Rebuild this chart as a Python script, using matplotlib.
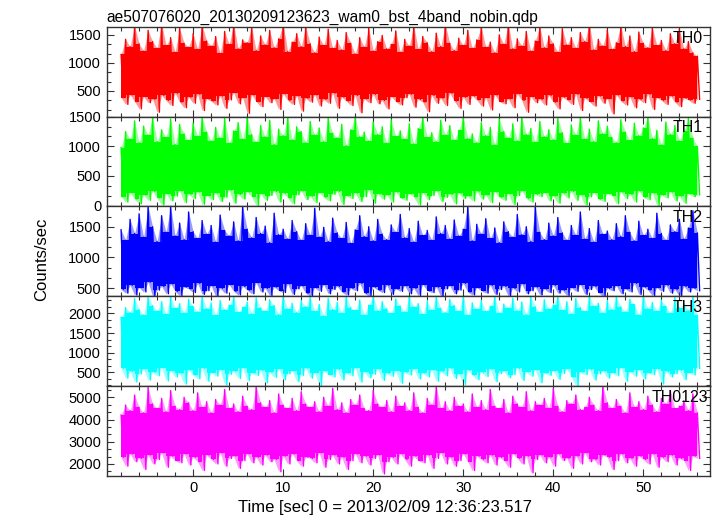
import numpy as np
import matplotlib
matplotlib.use("Agg")
import matplotlib.pyplot as plt
from matplotlib.ticker import MultipleLocator, AutoMinorLocator

plt.rcParams['font.family'] = ['Liberation Sans', 'DejaVu Sans']

title = "ae507076020_20130209123623_wam0_bst_4band_nobin.qdp"
xlabel = "Time [sec] 0 = 2013/02/09 12:36:23.517"
ylabel = "Counts/sec"

# time grid of the samples (peak then trough every 0.5 s, -8 .. 56 s)
t_start, t_step, n_pts = -8.0, 0.5, 129

# local peaks / troughs of each light curve
th0_hi = [1150, 1420, 1290, 1660, 1340, 1210, 1580, 1380, 1260, 1700, 1310, 1450, 1190, 1620, 1350, 1280,
          1520, 1240, 1680, 1390, 1300, 1470, 1170, 1560, 1330, 1690, 1250, 1410, 1360, 1640, 1220, 1480,
          1320, 1580, 1270, 1430, 1700, 1200, 1370, 1520, 1290, 1650, 1340, 1180, 1460, 1310, 1600, 1260,
          1400, 1230, 1540, 1350, 1160, 1450, 1280, 1620, 1210, 1380, 1490, 1250, 1330, 1570, 1190, 1420,
          1300, 1660, 1240, 1470, 1360, 1200, 1530, 1290, 1690, 1350, 1220, 1440, 1310, 1580, 1260, 1410,
          1640, 1280, 1370, 1180, 1500, 1330, 1700, 1250, 1430, 1300, 1560, 1210, 1390, 1650, 1270, 1480,
          1340, 1190, 1610, 1320, 1450, 1260, 1540, 1380, 1700, 1230, 1420, 1300, 1590, 1240, 1360, 1670,
          1290, 1480, 1200, 1550, 1350, 1270, 1630, 1310, 1400, 1220, 1520, 1340, 1600, 1250, 1380, 1180,
          1120]
th0_lo = [380, 260, 430, 310, 180, 400, 290, 350, 120, 420, 330, 240, 460, 300, 200, 390,
          280, 440, 150, 360, 320, 250, 410, 190, 340, 470, 270, 380, 100, 430, 310, 220,
          400, 290, 360, 170, 450, 330, 260, 410, 140, 370, 300, 430, 230, 350, 280, 460,
          190, 390, 320, 240, 420, 110, 360, 290, 440, 270, 330, 180, 400, 310, 250, 380,
          440, 210, 350, 300, 130, 420, 280, 370, 240, 460, 320, 190, 390, 260, 410, 340,
          230, 380, 160, 430, 310, 270, 360, 200, 450, 330, 120, 400, 290, 350, 250, 420,
          300, 180, 390, 340, 260, 440, 150, 370, 310, 230, 410, 280, 360, 90, 430, 320,
          250, 390, 200, 350, 290, 440, 170, 380, 330, 260, 410, 300, 220, 370, 340, 280,
          350]

th1_hi = [980, 1250, 1120, 1430, 1060, 1340, 1190, 1500, 1080, 1280, 1150, 1460, 1030, 1370, 1210, 1100,
          1390, 1170, 1500, 1240, 1090, 1320, 1140, 1470, 1050, 1260, 1400, 1120, 1500, 1200, 1070, 1350,
          1160, 1440, 1030, 1290, 1180, 1500, 1110, 1330, 1250, 1060, 1420, 1190, 1310, 1080, 1480, 1220,
          1140, 1370, 1010, 1280, 1500, 1160, 1240, 1090, 1410, 1200, 1330, 1050, 1450, 1170, 1260, 1120,
          1380, 1040, 1300, 1500, 1150, 1230, 1080, 1440, 1190, 1350, 1100, 1270, 1490, 1130, 1210, 1060,
          1400, 1180, 1320, 1020, 1460, 1250, 1140, 1380, 1090, 1500, 1200, 1300, 1070, 1420, 1160, 1280,
          1110, 1470, 1230, 1050, 1360, 1190, 1500, 1120, 1290, 1080, 1430, 1210, 1340, 1150, 1060, 1450,
          1240, 1100, 1390, 1180, 1310, 1500, 1130, 1270, 1020, 1410, 1200, 1350, 1090, 1260, 1480, 1140,
          1000]
th1_lo = [150, 60, 220, 110, 30, 180, 90, 240, 130, 10, 200, 80, 160, 250, 50, 190,
          120, 230, 20, 170, 100, 210, 70, 140, 260, 40, 190, 110, 230, 150, 0, 200,
          90, 170, 240, 60, 210, 130, 30, 180, 250, 100, 160, 50, 220, 140, 80, 190,
          240, 20, 170, 120, 210, 70, 150, 260, 40, 200, 110, 180, 60, 230, 130, 90,
          200, 150, 10, 220, 100, 170, 250, 70, 140, 190, 30, 210, 120, 160, 80, 240,
          110, 180, 50, 230, 140, 90, 200, 20, 170, 250, 120, 60, 190, 150, 220, 80,
          160, 40, 210, 130, 240, 90, 180, 10, 150, 220, 110, 70, 200, 170, 30, 230,
          120, 190, 60, 250, 140, 100, 210, 0, 180, 130, 230, 80, 160, 40, 200, 150,
          180]

th2_hi = [1450, 1280, 1620, 1390, 1710, 1330, 1830, 1500, 1260, 1680, 1410, 1830, 1350, 1560, 1290, 1740,
          1420, 1310, 1600, 1380, 1520, 1250, 1690, 1440, 1350, 1580, 1270, 1830, 1460, 1320, 1650, 1390,
          1510, 1240, 1720, 1370, 1460, 1300, 1600, 1420, 1280, 1550, 1360, 1800, 1330, 1490, 1260, 1640,
          1400, 1310, 1570, 1230, 1450, 1680, 1340, 1500, 1270, 1620, 1380, 1290, 1530, 1410, 1700, 1320,
          1470, 1250, 1590, 1360, 1440, 1280, 1660, 1390, 1520, 1300, 1610, 1350, 1460, 1830, 1270, 1540,
          1380, 1630, 1310, 1480, 1240, 1580, 1420, 1330, 1700, 1370, 1500, 1260, 1830, 1410, 1290, 1560,
          1350, 1650, 1400, 1280, 1520, 1360, 1740, 1300, 1470, 1250, 1600, 1380, 1430, 1290, 1550, 1340,
          1680, 1410, 1270, 1590, 1360, 1460, 1310, 1720, 1390, 1280, 1530, 1420, 1620, 1300, 1480, 1760,
          1400]
th2_lo = [480, 420, 550, 390, 510, 440, 600, 370, 470, 530, 410, 570, 450, 380, 520, 490,
          430, 580, 400, 460, 540, 370, 500, 420, 560, 450, 390, 530, 470, 410, 590, 440,
          500, 380, 520, 460, 430, 570, 400, 490, 540, 420, 370, 510, 450, 560, 410, 480,
          530, 440, 390, 500, 460, 580, 420, 370, 520, 470, 430, 550, 400, 490, 450, 540,
          410, 500, 380, 560, 460, 430, 520, 370, 490, 540, 410, 470, 580, 440, 390, 510,
          460, 420, 550, 400, 480, 530, 370, 500, 440, 570, 410, 460, 520, 390, 490, 430,
          550, 420, 470, 380, 510, 450, 560, 400, 480, 530, 430, 370, 500, 460, 540, 410,
          490, 440, 580, 400, 520, 470, 380, 510, 450, 550, 420, 480, 370, 530, 440, 500,
          460]

th3_hi = [1900, 2150, 2020, 2380, 2100, 1960, 2440, 2200, 2060, 2300, 1980, 2440, 2130, 2250, 2010, 2360,
          2180, 2040, 2440, 2120, 2270, 1950, 2330, 2090, 2210, 2440, 2030, 2160, 2290, 1990, 2400, 2140,
          2060, 2350, 2200, 1970, 2440, 2110, 2260, 2020, 2320, 2170, 2440, 2050, 2230, 1940, 2390, 2100,
          2280, 2010, 2440, 2150, 2080, 2340, 1960, 2210, 2440, 2070, 2300, 2120, 2000, 2370, 2190, 2040,
          2440, 2160, 2250, 1980, 2310, 2090, 2440, 2130, 2020, 2360, 2200, 2060, 2440, 1950, 2270, 2110,
          2330, 2050, 2180, 2440, 2000, 2240, 2140, 2390, 2070, 2290, 1970, 2440, 2170, 2030, 2350, 2120,
          2220, 2440, 2080, 2300, 1990, 2380, 2150, 2050, 2440, 2190, 2260, 2010, 2330, 2100, 2440, 2170,
          2040, 2360, 2230, 1960, 2440, 2120, 2280, 2060, 2340, 2180, 2000, 2410, 2140, 2250, 2070, 2440,
          1950]
th3_lo = [600, 350, 520, 250, 460, 580, 300, 500, 410, 620, 280, 540, 380, 470, 200, 560,
          430, 330, 600, 270, 490, 400, 560, 180, 450, 520, 340, 610, 290, 480, 420, 550,
          230, 500, 370, 590, 310, 460, 540, 260, 420, 600, 350, 490, 160, 530, 440, 380,
          570, 300, 480, 410, 620, 250, 510, 360, 450, 580, 290, 470, 400, 540, 220, 500,
          430, 590, 330, 480, 380, 560, 270, 520, 410, 600, 340, 460, 190, 550, 430, 310,
          500, 390, 580, 260, 470, 530, 360, 440, 600, 290, 510, 400, 560, 230, 480, 420,
          540, 320, 470, 590, 380, 150, 500, 440, 570, 300, 460, 530, 350, 490, 410, 620,
          270, 510, 400, 560, 330, 480, 440, 590, 200, 520, 380, 460, 550, 310, 490, 430,
          600]

th0123_hi = [4200, 4650, 4400, 5100, 4550, 4300, 5450, 4700, 4500, 4950, 4350, 5300, 4600, 4450, 5000, 4750,
             4400, 5200, 4550, 4800, 4300, 4900, 4650, 5350, 4500, 4700, 4350, 5050, 4600, 4450, 5510, 4750,
             4550, 4850, 4300, 5150, 4650, 4500, 4950, 4400, 5250, 4700, 4550, 4800, 4350, 5000, 4600, 5400,
             4450, 4750, 4300, 4900, 4650, 5100, 4500, 4400, 5300, 4700, 4550, 4850, 4350, 5050, 4600, 4750,
             4400, 5200, 4550, 4300, 4950, 4650, 5510, 4500, 4800, 4400, 5000, 4600, 4700, 4350, 5150, 4550,
             4850, 4450, 5350, 4600, 4500, 4900, 4300, 5050, 4700, 4550, 5250, 4400, 4800, 4650, 4950, 4500,
             5400, 4600, 4350, 4850, 4700, 5100, 4450, 4550, 5000, 4650, 4400, 5510, 4750, 4500, 4900, 4600,
             4300, 5200, 4550, 4800, 4450, 5050, 4650, 4350, 4950, 4700, 5300, 4500, 4600, 4850, 4400, 5150,
             4300]
th0123_lo = [2300, 1900, 2450, 2100, 2250, 1750, 2400, 2000, 2200, 2500, 1850, 2350, 2150, 2050, 2450, 1950,
             2300, 2100, 1700, 2400, 2200, 2000, 2500, 1900, 2250, 2350, 1800, 2150, 2450, 2050, 2300, 1950,
             2400, 2100, 2200, 1650, 2350, 2000, 2450, 2150, 1900, 2300, 2250, 2050, 2500, 1850, 2200, 2400,
             2000, 2300, 1750, 2150, 2450, 2050, 2350, 1950, 2250, 2400, 1550, 2100, 2300, 2000, 2450, 2200,
             1900, 2350, 2150, 2050, 2400, 1800, 2250, 2500, 2000, 2300, 1900, 2150, 2450, 2100, 1700, 2350,
             2200, 2050, 2400, 1950, 2300, 2150, 1850, 2450, 2250, 2000, 2350, 1600, 2200, 2400, 2050, 2300,
             1900, 2450, 2150, 2250, 1800, 2350, 2000, 2500, 2100, 2200, 1950, 2400, 2300, 1750, 2150, 2450,
             2050, 2250, 1900, 2350, 2200, 2000, 2450, 1850, 2300, 2100, 2400, 1950, 2250, 2150, 1700, 2350,
             2250]

names = ["TH0", "TH1", "TH2", "TH3", "TH0123"]
colors = ["#ff0000", "#00ff00", "#0000ff", "#00ffff", "#ff00ff"]
highs = [th0_hi, th1_hi, th2_hi, th3_hi, th0123_hi]
lows = [th0_lo, th1_lo, th2_lo, th3_lo, th0123_lo]
ylims = [(40, 1640), (-15, 1500), (370, 1830), (150, 2440), (1470, 5510)]
ymajor = [500, 500, 500, 500, 1000]
label_x = [0.988, 0.988, 0.988, 0.988, 0.997]

t = t_start + t_step * np.arange(n_pts)
t_zig = np.column_stack([t, t + t_step / 2]).ravel()


def pairwise(v, fn):
    # extreme of each sample and the next one
    p = np.append(np.asarray(v, float), v[-1])
    return fn(np.vstack([p[:-1], p[1:]]), axis=0)


fig, axes = plt.subplots(5, 1, sharex=True, figsize=(7.17, 5.16), dpi=100)
fig.subplots_adjust(left=0.1488, right=0.9902, top=0.9477, bottom=0.0781, hspace=0)

for ax, name, c, hi, lo, yl, ym, lx in zip(axes, names, colors, highs, lows,
                                           ylims, ymajor, label_x):
    y_zig = np.column_stack([hi, lo]).ravel()
    # light tint of the whole spread, thin strokes for the spikes, solid dense part
    ax.fill_between(t, lo, hi, color=c, lw=0, alpha=0.4)
    ax.plot(t_zig, y_zig, color=c, lw=1.0)
    ax.fill_between(t, pairwise(lo, np.max), pairwise(hi, np.min), step="post", color=c, lw=0)
    ax.set_ylim(*yl)
    ax.yaxis.set_major_locator(MultipleLocator(ym))
    ax.yaxis.set_minor_locator(AutoMinorLocator(3))
    ax.xaxis.set_major_locator(MultipleLocator(10))
    ax.xaxis.set_minor_locator(MultipleLocator(2))
    ax.tick_params(which="both", direction="in", top=True, right=True,
                   labelsize=10.5, width=0.8, color="#333333", pad=4)
    ax.tick_params(which="major", length=5)
    ax.tick_params(which="minor", length=3)
    for s in ax.spines.values():
        s.set_linewidth(1.0)
        s.set_color("#333333")
        s.set_zorder(3)
    ax.text(lx, 0.875, name, transform=ax.transAxes, ha="right", va="center",
            fontsize=11.5, zorder=4)

axes[-1].set_xlim(-9.6, 57.4)
fig.text(0.537, 0.017, xlabel, ha="center", va="center", fontsize=12)
fig.text(0.0575, 0.498, ylabel, rotation=90, ha="center", va="center", fontsize=12)
axes[0].set_title(title, loc="left", fontsize=11.2, pad=4)

fig.savefig("out.png", dpi=100)
